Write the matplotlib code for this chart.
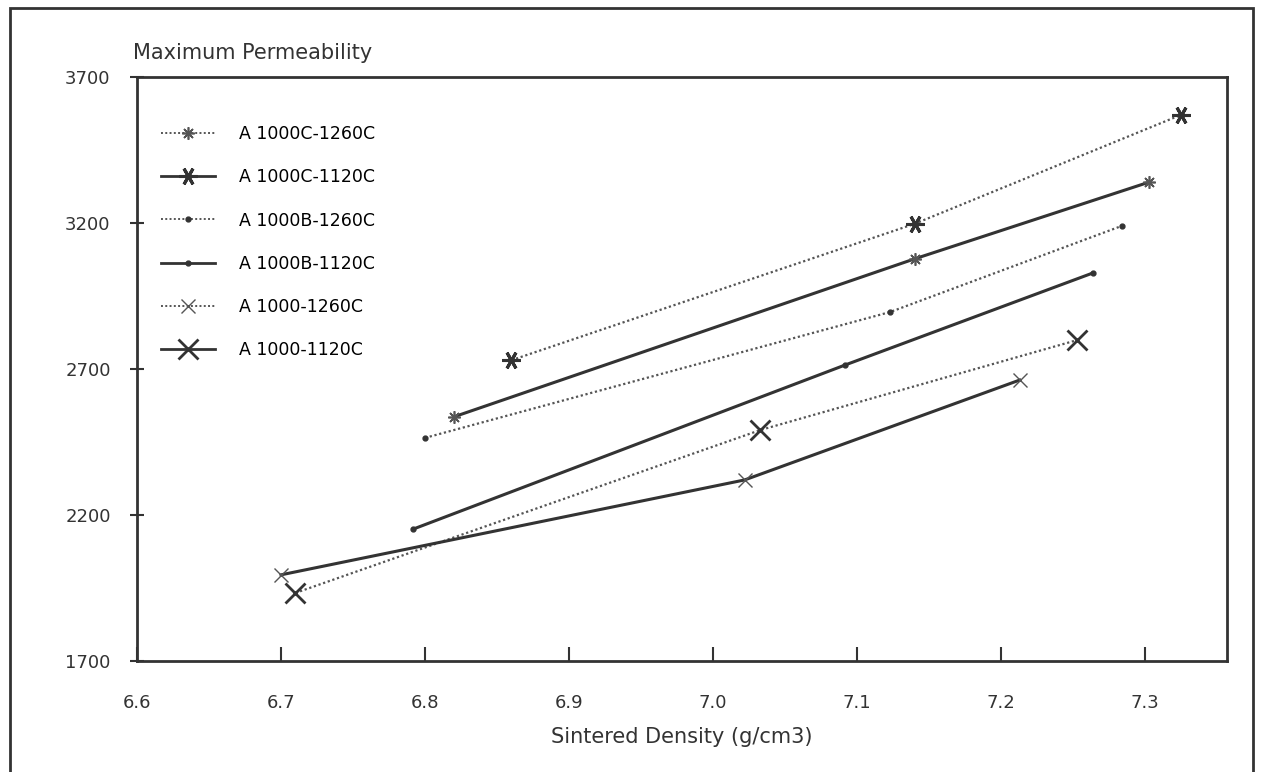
import matplotlib
matplotlib.use('Agg')
import matplotlib.pyplot as plt
from matplotlib.lines import Line2D
from matplotlib.patches import Rectangle

# values
labels = ['A 1000C-1260C', 'A 1000C-1120C', 'A 1000B-1260C',
          'A 1000B-1120C', 'A 1000-1260C', 'A 1000-1120C']

x_top = [6.86, 7.14, 7.325]
y_top = [2730, 3197, 3570]
x_2 = [6.82, 7.14, 7.303]
y_2 = [2536, 3077, 3340]
x_3 = [6.80, 7.123, 7.284]
y_3 = [2464, 2895, 3190]
x_4 = [6.792, 7.092, 7.264]
y_4 = [2152, 2714, 3029]
x_5 = [6.71, 7.033, 7.253]
y_5 = [1933, 2491, 2799]
x_6 = [6.70, 7.022, 7.213]
y_6 = [1995, 2320, 2662]

xticks = [6.6, 6.7, 6.8, 6.9, 7.0, 7.1, 7.2, 7.3]
yticks = [1700, 2200, 2700, 3200, 3700]

plt.rcParams['font.family'] = ['DejaVu Sans']
dark = '#333333'
dotc = '#555555'
dot = (0, (1, 1.2))
star_big = (6, 2, 90)
star_small = (8, 2, 0)

fig = plt.figure(figsize=(12.64, 7.72), dpi=100)
ax = fig.add_axes([0.1084, 0.1438, 0.8623, 0.7565])

ax.plot(x_top, y_top, color=dotc, ls=dot, lw=1.6, marker=star_big, ms=13, mew=2.2, mec=dark)
ax.plot(x_2, y_2, color=dark, lw=2.2, marker=star_small, ms=9, mew=1.2, mec=dotc)
ax.plot(x_3, y_3, color=dotc, ls=dot, lw=1.6, marker='o', ms=3.5, mfc=dark, mec=dark)
ax.plot(x_4, y_4, color=dark, lw=2.2, marker='o', ms=3.5, mfc=dark, mec=dark)
ax.plot(x_5, y_5, color=dotc, ls=dot, lw=1.6, marker='x', ms=14, mew=2, mec=dark)
ax.plot(x_6, y_6, color=dark, lw=2.2, marker='x', ms=10, mew=1.0, mec=dotc)

handles = [
    Line2D([], [], color=dotc, ls=dot, lw=1.4, marker=star_small, ms=9, mew=1.2, mec=dotc),
    Line2D([], [], color=dark, lw=2.0, marker=star_big, ms=13, mew=2.2, mec=dark),
    Line2D([], [], color=dotc, ls=dot, lw=1.4, marker='o', ms=3.5, mfc=dark, mec=dark),
    Line2D([], [], color=dark, lw=2.0, marker='o', ms=3.5, mfc=dark, mec=dark),
    Line2D([], [], color=dotc, ls=dot, lw=1.4, marker='x', ms=10, mew=1.0, mec=dotc),
    Line2D([], [], color=dark, lw=2.0, marker='x', ms=14, mew=2, mec=dark),
]
ax.legend(handles, labels, loc='upper left', bbox_to_anchor=(0.0, 0.959),
          frameon=False, fontsize=12.5, handlelength=3.1, handletextpad=1.4,
          labelspacing=1.45, borderaxespad=1.0)

ax.set_xlim(6.6, 7.357)
ax.set_ylim(1700, 3700)
ax.set_xticks(xticks)
ax.set_xticklabels([f'{t:.1f}' for t in xticks])
ax.set_yticks(yticks)
ax.tick_params(axis='x', direction='in', length=10, width=1.5, pad=23.5,
               labelsize=13, colors=dark)
ax.tick_params(axis='y', direction='inout', length=10, width=1.5, pad=14,
               labelsize=13, colors=dark)
for s in ax.spines.values():
    s.set_linewidth(2)
    s.set_color(dark)
ax.set_xlabel('Sintered Density (g/cm3)', fontsize=15, color=dark, labelpad=11)
fig.text(133 / 1264, 1 - 53 / 772, 'Maximum Permeability', fontsize=15,
         color=dark, va='center', ha='left')

fig.patches.append(Rectangle((10 / 1264, -0.05), 1243 / 1264, 1.05 - 8 / 772,
                             transform=fig.transFigure, fill=False,
                             lw=2, edgecolor=dark))

fig.savefig('out.png', dpi=100)
